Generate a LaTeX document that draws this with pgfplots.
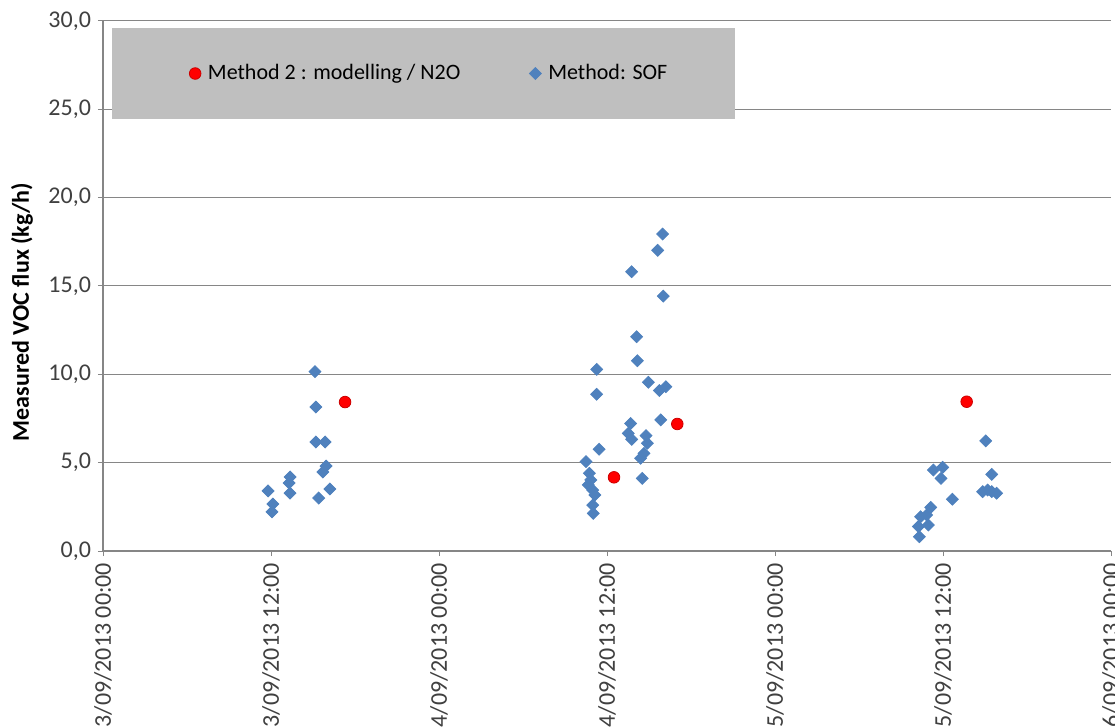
\documentclass[border=0pt]{standalone}
\usepackage{pgfplots}
\pgfplotsset{compat=1.18}
\usepackage{fontspec}
\setmainfont{Carlito}
\definecolor{sofblue}{HTML}{4F81BD}
\definecolor{gridgray}{HTML}{868686}
\definecolor{leggray}{HTML}{BFBFBF}
\definecolor{ticktext}{HTML}{404040}
\pgfplotsset{markonly legend/.style={legend image code/.code={\draw[##1] plot coordinates {(0pt,0pt)};}}}
\begin{document}
\begin{tikzpicture}
\begin{axis}[
  scale only axis, width=504pt, height=265pt,
  xmin=0, xmax=72, ymin=0, ymax=30,
  axis x line*=bottom, axis y line*=left,
  axis line style={gridgray, line width=0.6pt, -},
  xtick={0,12,24,36,48,60,72},
  xticklabels={03/09/2013 00:00,03/09/2013 12:00,04/09/2013 00:00,04/09/2013 12:00,05/09/2013 00:00,05/09/2013 12:00,06/09/2013 00:00},
  x tick label style={rotate=90, anchor=east, font=\fontsize{12}{14}\selectfont, text=ticktext},
  ytick={0,5,10,15,20,25,30},
  /pgf/number format/.cd, fixed, fixed zerofill, precision=1, use comma, assume math mode=true,
  /pgfplots/.cd,
  y tick label style={font=\fontsize{12}{14}\selectfont, text=ticktext},
  tick align=outside, major tick length=2.5pt,
  tick style={gridgray, line width=0.5pt},
  ymajorgrids, grid style={gridgray, line width=0.5pt},
  ylabel={\textbf{Measured VOC flux (kg/h)}},
  ylabel style={at={(axis description cs:-0.0804,0.451)}, anchor=center, font=\fontsize{12}{14}\selectfont},
  legend columns=2,
  legend style={at={(0.0089,0.9868)}, anchor=north west, fill=leggray, draw=none,
    inner xsep=38.5pt, inner ysep=16pt, font=\fontsize{11}{13}\selectfont,
    /tikz/every even column/.append style={column sep=32.5pt}},
]
\addplot[only marks, mark=*, mark size=2.9pt, mark options={fill=red, draw=red!80!black}, markonly legend]
  coordinates {(17.29,8.43) (36.5,4.17) (41.02,7.19) (61.69,8.45)};
\addlegendentry{\hspace{1.5pt}Method 2 : modelling / N2O}
\addplot[only marks, mark=square*, mark size=2.1pt, mark options={rotate=45, fill=sofblue, draw=sofblue}, markonly legend]
  table {
x y
11.79 3.40
12.14 2.66
12.07 2.21
13.36 4.19
13.29 3.85
13.36 3.28
15.14 10.15
15.21 8.15
15.21 6.17
15.86 6.17
15.93 4.81
15.71 4.47
16.21 3.51
15.41 3.00
39.97 17.94
39.62 17.02
37.76 15.81
40.02 14.43
38.12 12.13
38.17 10.77
35.26 10.28
35.26 8.87
38.95 9.55
39.74 9.08
40.20 9.30
39.84 7.42
37.69 7.22
37.52 6.66
37.76 6.32
38.79 6.53
38.88 6.10
38.64 5.53
38.40 5.25
35.43 5.76
34.50 5.06
38.52 4.11
34.74 4.40
34.84 4.02
34.66 3.74
34.98 3.45
35.14 3.17
34.98 2.60
35.02 2.13
63.05 6.23
59.31 4.58
59.98 4.74
59.86 4.11
63.48 4.34
60.67 2.93
62.83 3.36
63.19 3.45
63.48 3.36
63.83 3.27
59.12 2.47
58.83 2.04
58.40 1.94
58.95 1.47
58.24 1.38
58.31 0.81
};
\addlegendentry{\hspace{1.5pt}Method: SOF\kern-6.5pt\relax}
\coordinate (sw) at (rel axis cs:0,0);
\coordinate (ne) at (rel axis cs:1,1);
\end{axis}
\pgfresetboundingbox
\path[use as bounding box] ([xshift=-51.5pt,yshift=-87.5pt]sw) rectangle ([xshift=2pt,yshift=10.5pt]ne);
\end{tikzpicture}
\end{document}
